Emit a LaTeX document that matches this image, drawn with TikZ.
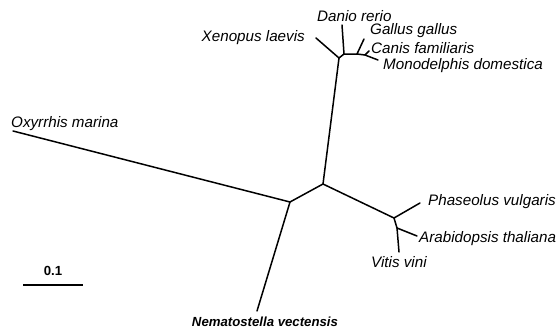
\documentclass[tikz,border=0pt]{standalone}
\usepackage{fontspec}
\setmainfont{Liberation Sans}
\usepackage{tikz}
\usetikzlibrary{calc, positioning}
\tikzstyle{taxon} = [inner sep=0pt, font=\fontsize{15.2}{18}\selectfont\itshape]
\tikzstyle{boldtaxon} = [inner sep=0pt, font=\fontsize{13.2}{16}\selectfont\bfseries\itshape]
\tikzstyle{branch} = [line width=1.5pt, line cap=round]

\begin{document}
\begin{tikzpicture}[x=1pt, y=-1pt]
		\useasboundingbox (0,0) rectangle (557,333);
		% inner nodes of the tree
		\coordinate (Root) at (290,202);
		\coordinate (Split) at (323,184);
		\coordinate (Vert) at (339,58);
		\coordinate (VertA) at (344,54);
		\coordinate (VertB) at (357,54);
		\coordinate (VertC) at (365,55);
		\coordinate (Plant) at (394,218);
		\coordinate (PlantA) at (397,228);
		% tips
		\coordinate (tOxy) at (13,131);
		\coordinate (tNema) at (257,311);
		\coordinate (tXeno) at (316,38);
		\coordinate (tDanio) at (342,25);
		\coordinate (tGallus) at (364,39);
		\coordinate (tCanis) at (369,51);
		\coordinate (tMono) at (378,60);
		\coordinate (tPhas) at (420,203);
		\coordinate (tArab) at (417,236);
		\coordinate (tVitis) at (399,252);
		% branches
		\draw [branch] (tOxy) -- (Root) -- (tNema);
		\draw [branch] (Root) -- (Split) -- (Vert);
		\draw [branch] (Split) -- (Plant) -- (tPhas);
		\draw [branch] (Plant) -- (PlantA) -- (tArab);
		\draw [branch] (PlantA) -- (tVitis);
		\draw [branch] (tXeno) -- (Vert) -- (VertA) -- (tDanio);
		\draw [branch] (VertA) -- (VertB) -- (tGallus);
		\draw [branch] (VertB) -- (VertC) -- (tCanis);
		\draw [branch] (VertC) -- (tMono);
		% labels
		\node (Oxy) [taxon, anchor=west] at (11,124) {Oxyrrhis marina};
		\node (Xeno) [taxon, anchor=east] at (305,38) {Xenopus laevis};
		\node (Danio) [taxon, anchor=west] at (317,16) {Danio rerio};
		\node (Gallus) [taxon, anchor=west] at (370,31) {Gallus gallus};
		\node (Canis) [taxon, anchor=west] at (371,48) {Canis familiaris};
		\node (Mono) [taxon, anchor=west] at (383,66) {Monodelphis domestica};
		\node (Phas) [taxon, anchor=west] at (428,202) {Phaseolus vulgaris};
		\node (Arab) [taxon, anchor=west] at (419,239) {Arabidopsis thaliana};
		\node (Vitis) [taxon, anchor=west] at (371,262) {Vitis vini};
		\node (Nema) [boldtaxon] at (265,322) {Nematostella vectensis};
		% scale bar
		\node (Scale) [boldtaxon, font=\fontsize{13.2}{16}\selectfont\bfseries] at (53,271) {0.1};
		\coordinate (barL) at (23,285);
		\coordinate (barR) at (83,285);
		\draw [branch, line cap=butt] (barL) -- (barR);
		\end{tikzpicture}
\end{document}
